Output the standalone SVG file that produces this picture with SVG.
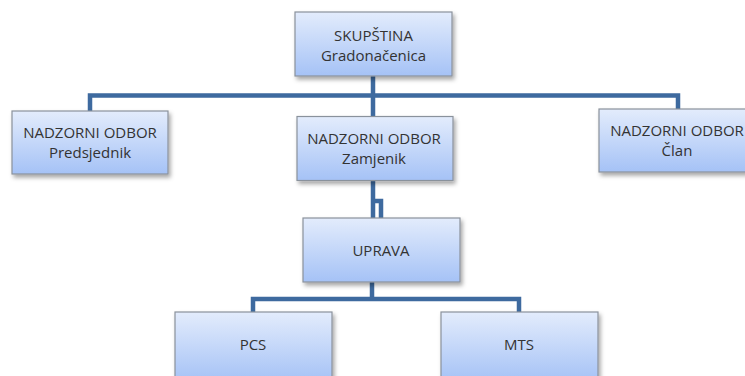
<svg xmlns="http://www.w3.org/2000/svg" width="745" height="376" viewBox="0 0 745 376">
<defs>
<linearGradient id="g" x1="0" y1="0" x2="0" y2="1">
<stop offset="0" stop-color="#e3ecfc"/>
<stop offset="1" stop-color="#a5c2f6"/>
</linearGradient>
<filter id="sh" x="-10%" y="-10%" width="130%" height="140%">
<feDropShadow dx="2" dy="3" stdDeviation="2" flood-color="#000" flood-opacity="0.35"/>
</filter>
</defs>
<style>
.box{fill:url(#g);stroke:#8a929c;stroke-width:1.2;filter:url(#sh)}
.t{font-family:"Open Sans","Noto Sans","DejaVu Sans",sans-serif;font-size:15px;fill:#333;text-anchor:middle}
.c{fill:none;stroke:#3e6a9f;stroke-width:4.5;stroke-linejoin:miter}
</style>
<rect width="745" height="376" fill="#fff"/>
<g id="connectors">
<path class="c" d="M373 76 V218"/>
<path class="c" d="M90 111 V95.5 H678 V109"/>
<path class="c" d="M373 201 H381 V218"/>
<path class="c" d="M372 282 V299"/>
<path class="c" d="M253 312 V299 H519 V312"/>
</g>
<g id="skupstina">
<rect class="box" x="295" y="12" width="157" height="64"/>
<text class="t" x="373.5" y="41">SKUPŠTINA</text>
<text class="t" x="373.5" y="61">Gradonačenica</text>
</g>
<g id="predsjednik">
<rect class="box" x="12" y="111" width="156" height="63"/>
<text class="t" x="90" y="137.5">NADZORNI ODBOR</text>
<text class="t" x="90" y="157.5">Predsjednik</text>
</g>
<g id="zamjenik">
<rect class="box" x="297" y="116.5" width="156" height="64"/>
<text class="t" x="374" y="144">NADZORNI ODBOR</text>
<text class="t" x="374" y="164">Zamjenik</text>
</g>
<g id="clan">
<rect class="box" x="599" y="109" width="157" height="63"/>
<text class="t" x="677" y="136">NADZORNI ODBOR</text>
<text class="t" x="677" y="156">Član</text>
</g>
<g id="uprava">
<rect class="box" x="303" y="218" width="157" height="64"/>
<text class="t" x="381" y="256">UPRAVA</text>
</g>
<g id="pcs">
<rect class="box" x="175" y="312" width="157" height="70"/>
<text class="t" x="253" y="350">PCS</text>
</g>
<g id="mts">
<rect class="box" x="441" y="312" width="157" height="70"/>
<text class="t" x="519" y="350">MTS</text>
</g>
</svg>
